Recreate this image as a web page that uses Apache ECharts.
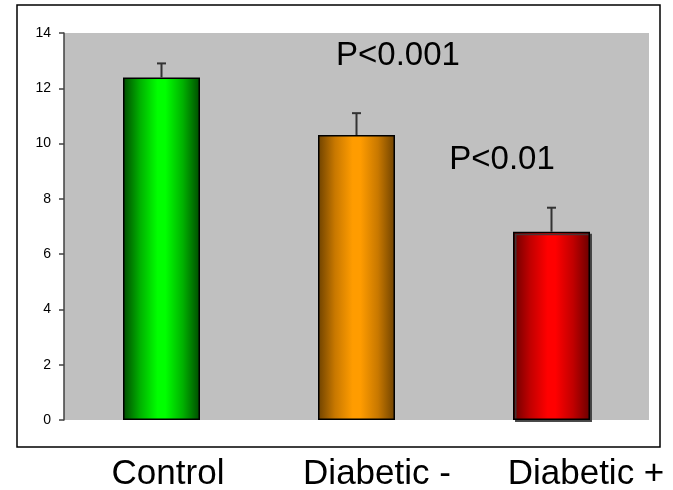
<!DOCTYPE html>
<html>
<head>
<meta charset="utf-8">
<script src="https://cdn.jsdelivr.net/npm/echarts@6/dist/echarts.min.js"></script>
<style>
  html, body { margin: 0; padding: 0; background: #fff; }
  #chart { width: 673px; height: 490px; }
</style>
</head>
<body>
<div id="chart"></div>
<script>
// Group means and upper error (SD) for each group
const categories = ['Control', 'Diabetic -', 'Diabetic +'];
const means = [12.39, 10.31, 6.81];
const errors = [0.51, 0.79, 0.87];
const yMin = 0, yMax = 14, yStep = 2;
const pLabels = ['P<0.001', 'P<0.01'];

const FONT = '"Liberation Sans", Arial, Helvetica, sans-serif';

// Horizontal "cylinder" shading: dark edges, bright centre
function shade(dark, mid, bright) {
  return {
    type: 'linear', x: 0, y: 0, x2: 1, y2: 0,
    colorStops: [
      { offset: 0, color: dark },
      { offset: 0.22, color: mid },
      { offset: 0.45, color: bright },
      { offset: 0.55, color: bright },
      { offset: 0.78, color: mid },
      { offset: 1, color: dark }
    ]
  };
}
const fills = [
  shade('#004a00', '#00b000', '#00ff00'),
  shade('#6e4200', '#c87800', '#ff9c00'),
  shade('#6a0000', '#c00000', '#ff0000')
];

const chart = echarts.init(document.getElementById('chart'), null, { renderer: 'canvas' });

const barData = means.map((v, i) => ({
  value: v,
  itemStyle: Object.assign({
    color: fills[i],
    borderColor: '#000',
    borderWidth: 1.5
  }, i === 2 ? { shadowColor: 'rgba(60,60,60,0.9)', shadowOffsetX: 2, shadowOffsetY: 2, shadowBlur: 0 } : {})
}));

chart.setOption({
  animation: false,
  backgroundColor: '#fff',
  grid: [
    // plotting area with the grey background
    { left: 64, right: 24, top: 33, bottom: 70, show: true, backgroundColor: '#c0c0c0', borderWidth: 0,
      containLabel: false, outerBoundsMode: 'none' },
    // wider band that carries the large group names under the frame
    { left: 63.5, right: -17.5, top: 33, bottom: 43, show: false,
      containLabel: false, outerBoundsMode: 'none' }
  ],
  xAxis: [
    {
      type: 'category', gridIndex: 0, data: categories,
      axisLine: { show: false }, axisTick: { show: false }, axisLabel: { show: false }
    },
    {
      type: 'category', gridIndex: 1, data: categories,
      axisLine: { show: false }, axisTick: { show: false },
      axisLabel: { show: true, interval: 0, margin: 10, color: '#000', fontSize: 35, fontFamily: FONT }
    }
  ],
  yAxis: [
    {
      type: 'value', gridIndex: 0, min: yMin, max: yMax, interval: yStep,
      axisLine: { show: true, lineStyle: { color: '#404040', width: 1.5 } },
      axisTick: { show: true, length: 5, lineStyle: { color: '#404040', width: 1.5 } },
      axisLabel: { margin: 13, color: '#000', fontSize: 14, fontFamily: FONT },
      splitLine: { show: false }
    },
    { type: 'value', gridIndex: 1, show: false, min: 0, max: 1 }
  ],
  series: [
    {
      type: 'bar', xAxisIndex: 0, yAxisIndex: 0,
      barWidth: 77, data: barData, z: 2
    },
    {
      // upper error whiskers
      type: 'custom', xAxisIndex: 0, yAxisIndex: 0, z: 3,
      data: means.map((m, i) => [i, m, m + errors[i]]),
      renderItem: function (params, api) {
        const base = api.coord([api.value(0), api.value(1)]);
        const top = api.coord([api.value(0), api.value(2)]);
        const half = 4.5;
        const style = { stroke: '#333', lineWidth: 2 };
        return {
          type: 'group',
          children: [
            { type: 'line', shape: { x1: base[0], y1: base[1], x2: top[0], y2: top[1] }, style: style },
            { type: 'line', shape: { x1: top[0] - half, y1: top[1], x2: top[0] + half, y2: top[1] }, style: style }
          ]
        };
      }
    }
  ],
  graphic: [
    {
      type: 'rect', z: 10, silent: true,
      shape: { x: 17, y: 5, width: 643, height: 442 },
      style: { fill: 'none', stroke: '#000', lineWidth: 1.5 }
    },
    {
      type: 'text', z: 10, x: 398, y: 56,
      style: { text: pLabels[0], fill: '#000', font: '33px ' + FONT, align: 'center', verticalAlign: 'middle' }
    },
    {
      type: 'text', z: 10, x: 502, y: 160,
      style: { text: pLabels[1], fill: '#000', font: '33px ' + FONT, align: 'center', verticalAlign: 'middle' }
    }
  ]
});
</script>
</body>
</html>
